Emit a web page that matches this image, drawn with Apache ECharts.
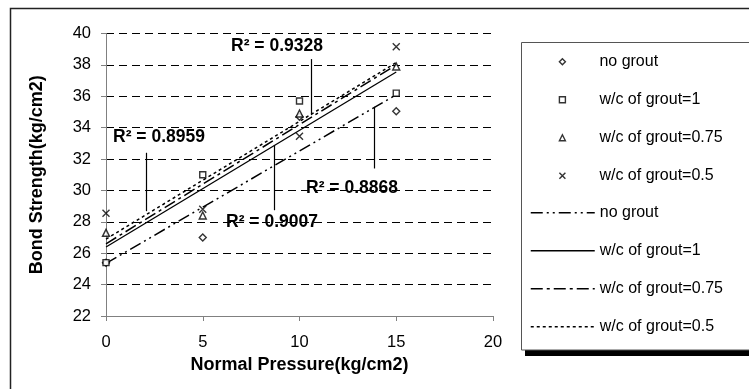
<!DOCTYPE html>
<html>
<head>
<meta charset="utf-8">
<script src="https://cdn.jsdelivr.net/npm/echarts@6/dist/echarts.min.js"></script>
<style>
  html, body { margin: 0; padding: 0; background: #fff; }
  #chart { width: 749px; height: 389px; }
</style>
</head>
<body>
<div id="chart"></div>
<script>
// data
const pressure = [0, 5, 10, 15];
const noGrout = [25.4, 27.0, 34.7, 35.05];
const wc1 = [25.4, 31.0, 35.7, 36.2];
const wc075 = [27.3, 28.4, 34.9, 37.9];
const wc05 = [28.55, 28.8, 33.45, 39.15];

// trend line end values at x = 0 and x = 15
const trendX = [0, 15];
const noGroutTrend = [25.35, 36.1];
const wc1Trend = [26.4, 37.55];
const wc075Trend = [26.6, 38.0];
const wc05Trend = [26.9, 38.15];

const seriesNames = ['no grout', 'w/c of grout=1', 'w/c of grout=0.75', 'w/c of grout=0.5'];
const r2Labels = ['R\u00b2 = 0.9328', 'R\u00b2 = 0.8959', 'R\u00b2 = 0.8868', 'R\u00b2 = 0.9007'];
// arrows: [x, fromY, toY] in data units
const arrows = [
  [10.59, 34.8, 38.37],
  [2.07, 28.68, 32.4],
  [13.85, 35.33, 31.4],
  [8.69, 32.89, 28.74]
];

const FONT = '"Liberation Sans", Arial, sans-serif';
const TREND = ' trend';

const pairs = (xs, ys) => xs.map((x, i) => [x, ys[i]]);

const markerStyle = { color: '#fff', borderColor: '#000', borderWidth: 1.4 };
const crossPath = 'path://M0,0L10,10M10,0L0,10';

const scatter = (name, ys, symbol, size) => ({
  name: name,
  type: 'scatter',
  data: pairs(pressure, ys),
  symbol: symbol,
  symbolSize: size,
  itemStyle: markerStyle,
  z: 5
});

const trend = (name, ys, dash, width) => ({
  name: name + TREND,
  type: 'line',
  data: pairs(trendX, ys),
  symbol: 'none',
  itemStyle: { color: 'rgba(0,0,0,0)', borderWidth: 0 },
  lineStyle: { color: '#000', width: width, type: dash },
  z: 3
});

const legendText = { fontSize: 16, color: '#000', fontFamily: FONT };

const chart = echarts.init(document.getElementById('chart'), null, { renderer: 'canvas' });

chart.setOption({
  animation: false,
  backgroundColor: '#fff',
  textStyle: { fontFamily: FONT },
  grid: { left: 106, top: 33.5, right: 256, bottom: 73 },
  xAxis: {
    type: 'value', min: 0, max: 20, interval: 5, z: 3,
    axisLine: { lineStyle: { color: '#808080' } },
    axisTick: { length: 5, lineStyle: { color: '#808080' } },
    axisLabel: { color: '#000', fontSize: 16.5, margin: 18, fontFamily: FONT },
    splitLine: { show: false },
    name: 'Normal Pressure(kg/cm2)', nameLocation: 'middle', nameGap: 38,
    nameTextStyle: { fontSize: 18, fontWeight: 'bold', color: '#000', fontFamily: FONT }
  },
  yAxis: {
    type: 'value', min: 22, max: 40, interval: 2, z: 1,
    axisLine: { show: true, lineStyle: { color: '#808080' } },
    axisTick: { show: true, length: 5, lineStyle: { color: '#808080' } },
    axisLabel: { color: '#000', fontSize: 16.5, margin: 15, fontFamily: FONT },
    splitLine: { show: true, lineStyle: { color: '#000', type: [8, 5], width: 1 } },
    name: 'Bond Strength(kg/cm2)', nameLocation: 'middle', nameGap: 60,
    nameTextStyle: { fontSize: 18, fontWeight: 'bold', color: '#000', fontFamily: FONT }
  },
  legend: [
    {
      orient: 'vertical', left: 558.7, top: 53.7, padding: 0,
      itemWidth: 6, itemHeight: 6, itemGap: 22,
      selectedMode: false, z: 5,
      data: seriesNames,
      itemStyle: { borderWidth: 1.4 },
      textStyle: Object.assign({ padding: [0, 0, 0, 29] }, legendText)
    },
    {
      orient: 'vertical', left: 530, top: 204.7, padding: 0,
      itemWidth: 64, itemHeight: 6, itemGap: 22,
      selectedMode: false, z: 5,
      data: seriesNames.map(n => n + TREND),
      formatter: n => n.replace(TREND, ''),
      itemStyle: { color: 'rgba(0,0,0,0)', borderWidth: 0 },
      lineStyle: { width: 1.5 },
      textStyle: legendText
    }
  ],
  graphic: [
    { type: 'rect', z: 0, silent: true,
      shape: { x: 10.5, y: 8.5, width: 800, height: 420 },
      style: { fill: 'none', stroke: '#222', lineWidth: 1.5 } },
    { type: 'rect', z: 1, silent: true,
      shape: { x: 525, y: 350, width: 260, height: 6 },
      style: { fill: '#000' } },
    { type: 'rect', z: 1, silent: true,
      shape: { x: 521.5, y: 42.5, width: 260, height: 307.5 },
      style: { fill: '#fff', stroke: '#555', lineWidth: 1 } },
    { type: 'text', z: 6, left: 231, top: 37,
      style: { text: r2Labels[0], font: 'bold 17.5px ' + FONT, fill: '#000' } },
    { type: 'text', z: 6, left: 113, top: 128.5,
      style: { text: r2Labels[1], font: 'bold 17.5px ' + FONT, fill: '#000' } },
    { type: 'text', z: 6, left: 306, top: 179,
      style: { text: r2Labels[2], font: 'bold 17.5px ' + FONT, fill: '#000' } },
    { type: 'text', z: 6, left: 226, top: 213.5,
      style: { text: r2Labels[3], font: 'bold 17.5px ' + FONT, fill: '#000' } }
  ],
  series: [
    scatter(seriesNames[0], noGrout, 'diamond', 7),
    scatter(seriesNames[1], wc1, 'rect', 6),
    scatter(seriesNames[2], wc075, 'triangle', 7),
    scatter(seriesNames[3], wc05, crossPath, 7),
    trend(seriesNames[0], noGroutTrend, [12, 4, 2, 4, 2, 4], 1.5),
    trend(seriesNames[1], wc1Trend, 'solid', 1.3),
    trend(seriesNames[2], wc075Trend, [12, 4, 3, 4], 1.5),
    trend(seriesNames[3], wc05Trend, [3, 3], 1.5),
    {
      name: 'arrows', type: 'line', data: [], z: 4,
      markLine: {
        silent: true, animation: false,
        symbol: ['none', 'arrow'], symbolSize: [0, 6],
        label: { show: false },
        lineStyle: { color: '#000', width: 1.2, type: 'solid' },
        data: arrows.map(a => [{ coord: [a[0], a[1]] }, { coord: [a[0], a[2]] }])
      }
    }
  ]
});
</script>
</body>
</html>
